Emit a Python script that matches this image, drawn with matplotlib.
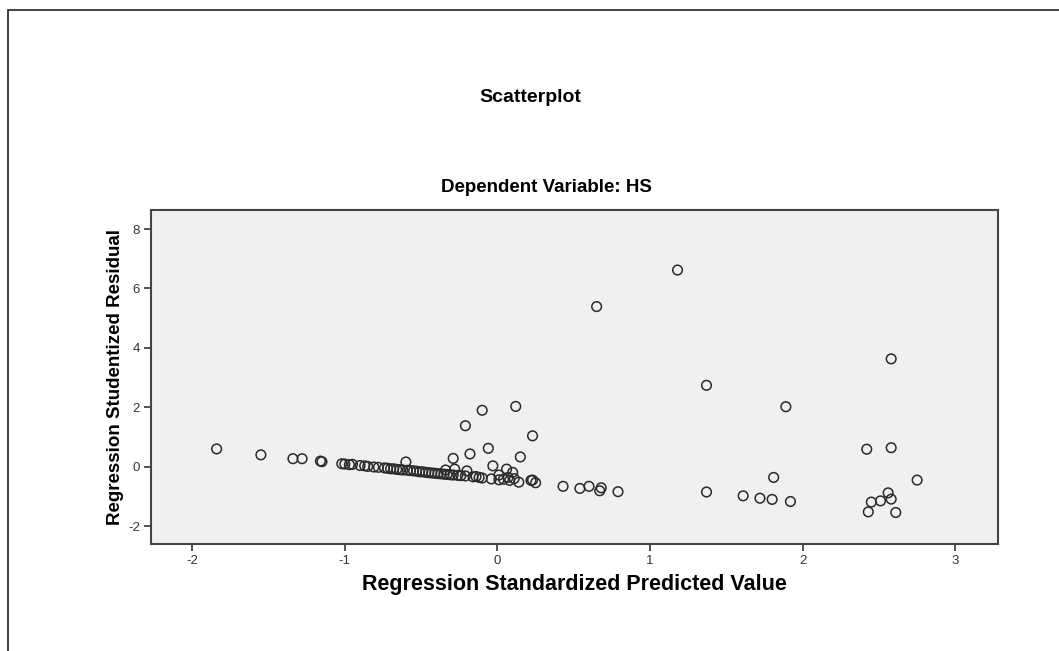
import matplotlib.pyplot as plt
from matplotlib.patches import Rectangle

# Predicted value (x) and studentized residual (y)
pred = [-1.84, -1.55, -1.34, -1.28, -1.16, -1.15, -1.02, -1.00, -0.97, -0.95,
        -0.90, -0.87, -0.85, -0.81, -0.78, -0.74, -0.72, -0.70, -0.68, -0.66,
        -0.64, -0.62, -0.60, -0.59, -0.57, -0.55, -0.53, -0.51, -0.49, -0.47,
        -0.45, -0.43, -0.41, -0.39, -0.37, -0.35, -0.33, -0.31, -0.29, -0.34,
        -0.28, -0.29, -0.26, -0.24, -0.21, -0.18, -0.16, -0.14, -0.12, -0.10,
        -0.06, -0.04, -0.03, 0.01, 0.01, 0.04, 0.06, 0.07, 0.08, 0.10,
        0.11, 0.14, 0.15, 0.22, 0.23, 0.25, 0.23, -0.10, 0.12, -0.21,
        -0.20, 0.43, 0.54, 0.60, 0.68, 0.67, 0.79, 0.65, 1.18, 1.37,
        1.89, 2.58, 2.42, 2.58, 1.81, 2.75, 1.37, 1.61, 1.72, 1.80,
        1.92, 2.56, 2.58, 2.51, 2.45, 2.43, 2.61]
resid = [0.60, 0.40, 0.27, 0.27, 0.19, 0.17, 0.10, 0.09, 0.07, 0.08,
         0.04, 0.03, 0.01, -0.01, -0.02, -0.04, -0.05, -0.07, -0.07, -0.09,
         -0.10, -0.11, 0.16, -0.12, -0.13, -0.14, -0.15, -0.17, -0.17, -0.19,
         -0.20, -0.21, -0.22, -0.23, -0.24, -0.25, -0.26, -0.27, -0.28, -0.11,
         -0.08, 0.28, -0.29, -0.30, -0.31, 0.43, -0.34, -0.33, -0.36, -0.38,
         0.62, -0.41, 0.03, -0.44, -0.28, -0.42, -0.08, -0.36, -0.46, -0.19,
         -0.40, -0.52, 0.33, -0.46, -0.45, -0.54, 1.04, 1.90, 2.03, 1.38,
         -0.14, -0.66, -0.73, -0.66, -0.71, -0.81, -0.84, 5.39, 6.62, 2.74,
         2.02, 3.63, 0.59, 0.64, -0.36, -0.45, -0.85, -0.98, -1.06, -1.10,
         -1.17, -0.88, -1.09, -1.15, -1.19, -1.52, -1.54]

x_ticks = [-2, -1, 0, 1, 2, 3]
y_ticks = [-2, 0, 2, 4, 6, 8]

plt.rcParams['font.family'] = ['Liberation Sans', 'DejaVu Sans']
plt.rcParams['axes.unicode_minus'] = False

fig = plt.figure(figsize=(10.59, 6.51), dpi=100)
fig.patch.set_facecolor('white')

# outer frame (only top and left edges show in the picture)
fig.add_artist(Rectangle((8 / 1059, -0.2), 1.2, 1.2 - 10 / 651,
                         transform=fig.transFigure, fill=False,
                         edgecolor='#222222', linewidth=1.2))

ax = fig.add_axes([0.1426, 0.1644, 0.7998, 0.513])
ax.set_facecolor('#f0f0f0')
ax.scatter(pred, resid, s=48, facecolors='none', edgecolors='#2a2a2a',
           linewidths=1.1)

ax.set_xlim(-2.27, 3.28)
ax.set_ylim(-2.6, 8.64)
ax.set_xticks(x_ticks)
ax.set_yticks(y_ticks)
ax.tick_params(direction='out', length=5, width=1.2, color='#333333',
               labelsize=9.5, labelcolor='#333333', pad=3)
for s in ax.spines.values():
    s.set_color('#444444')
    s.set_linewidth(1.5)

ax.set_xlabel('Regression Standardized Predicted Value', fontsize=15.5,
              fontweight='bold', labelpad=5)
ax.set_ylabel('Regression Studentized Residual', fontsize=13.5,
              fontweight='bold', labelpad=3)

fig.text(530 / 1059, 1 - 97 / 651, 'Scatterplot', ha='center', va='center',
         fontsize=14, fontweight='bold')
fig.text(546 / 1059, 1 - 188 / 651, 'Dependent Variable: HS', ha='center',
         va='center', fontsize=13.5, fontweight='bold')

fig.savefig('out.png', dpi=100)
